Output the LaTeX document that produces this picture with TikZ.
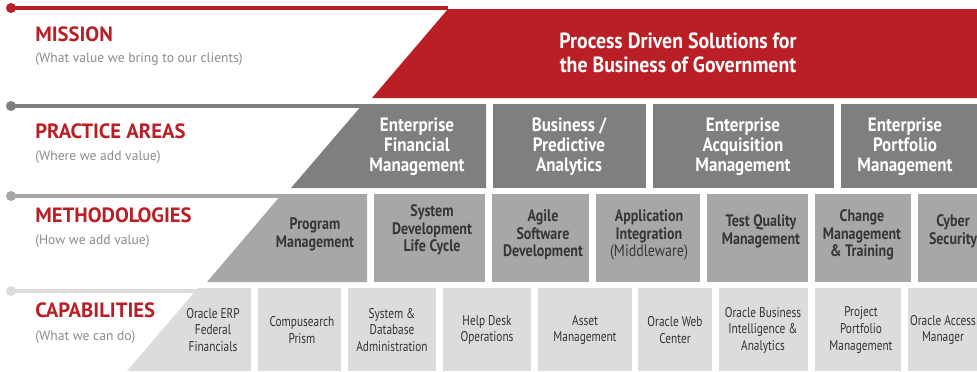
\documentclass[tikz,border=0pt]{standalone}
\usepackage{fontspec}
\setmainfont{PT Sans}
\newfontfamily\condf[FakeStretch=0.84]{PT Sans}
\newfontfamily\condm[FakeStretch=0.9]{PT Sans}
\newfontfamily\condp[FakeStretch=0.88]{PT Sans}
\newfontfamily\condc[FakeStretch=0.8]{PT Sans}
\definecolor{brand}{HTML}{BA1F25}
\definecolor{pgray}{HTML}{7F7F80}
\definecolor{mgray}{HTML}{A7A7A7}
\definecolor{cgray}{HTML}{DCDCDC}
\definecolor{sub}{HTML}{8C8C8C}
\definecolor{ink}{HTML}{363636}
\definecolor{ink2}{HTML}{333333}
\tikzset{
  rowlabel/.style={anchor=base west, inner sep=0pt, text=brand, font=\fontsize{15.5}{17}\selectfont\bfseries},
  rowsub/.style={anchor=base west, inner sep=0pt, text=sub, font=\fontsize{10.2}{12}\selectfont},
  dotnode/.style={circle, inner sep=0pt, minimum size=7.5pt},
  mtext/.style={align=center, inner sep=0pt, text=white, font=\condm\bfseries\fontsize{16.5}{18}\selectfont},
  ptext/.style={align=center, inner sep=0pt, text=white, font=\condp\bfseries\fontsize{14.5}{15}\selectfont},
  metext/.style={align=center, inner sep=0pt, text=ink, font=\condf\bfseries\fontsize{12.5}{13.3}\selectfont},
  ctext/.style={align=center, inner sep=0pt, text=ink2, font=\condc\fontsize{10.6}{12.4}\selectfont},
}
\begin{document}
\begin{tikzpicture}[x=0.75pt,y=-0.75pt]
\useasboundingbox (0,0) rectangle (977,371);
\fill[white] (0,0) rectangle (977,371);

% ---------- MISSION ----------
\fill[brand] (372,98) -- (448,9) -- (977,9) -- (977,98) -- cycle;
\node[dotnode, fill=brand] (d1) at (11,8) {};
\coordinate (e1) at (448,8);
\draw[brand, line width=2.4pt] (d1.center) -- (e1);
\node[rowlabel] (l1) at (35,41) {MISSION};
\node[rowsub] (s1) at (35,62) {(What value we bring to our clients)};
\node[mtext] (mission) at (678,53) {Process Driven Solutions for\\the Business of Government};

% ---------- PRACTICE AREAS ----------
\node[dotnode, fill=pgray] (d2) at (11,106) {};
\coordinate (e2) at (363,106);
\draw[pgray, line width=2.4pt] (d2.center) -- (e2);
\fill[pgray] (291,188) -- (363,104) -- (486,104) -- (486,188) -- cycle;
\fill[pgray] (493,104) rectangle (646,188);
\fill[pgray] (653,104) rectangle (834,188);
\fill[pgray] (841,104) rectangle (990,188);
\node[rowlabel] (l2) at (35,138) {PRACTICE AREAS};
\node[rowsub] (s2) at (35,160) {(Where we add value)};
\node[ptext] (p1) at (417,147) {Enterprise\\Financial\\Management};
\node[ptext] (p2) at (569,147) {Business /\\Predictive\\Analytics};
\node[ptext] (p3) at (743,147) {Enterprise\\Acquisition\\Management};
\node[ptext] (p4) at (905,147) {Enterprise\\Portfolio\\Management};

% ---------- METHODOLOGIES ----------
\node[dotnode, fill=mgray] (d3) at (11,196) {};
\coordinate (e3) at (282,196);
\draw[mgray, line width=2.4pt] (d3.center) -- (e3);
\fill[mgray] (207,282) -- (282,194) -- (367,194) -- (367,282) -- cycle;
\fill[mgray] (374,194) rectangle (485,282);
\fill[mgray] (492,194) rectangle (589,282);
\fill[mgray] (596,194) rectangle (700,282);
\fill[mgray] (707,194) rectangle (808,282);
\fill[mgray] (815,194) rectangle (911,282);
\fill[mgray] (918,194) rectangle (990,282);
\node[rowlabel] (l3) at (35,222) {METHODOLOGIES};
\node[rowsub] (s3) at (35,244) {(How we add value)};
\node[metext] (m1) at (315,234) {Program\\Management};
\node[metext] (m2) at (432,230) {System\\Development\\Life Cycle};
\node[metext] (m3) at (543,235) {Agile\\Software\\Development};
\node[metext] (m4) at (649,235) {Application\\Integration\\{\mdseries(Middleware)}};
\node[metext] (m5) at (761,231) {Test Quality\\Management};
\node[metext] (m6) at (862,235) {Change\\Management\\\& Training};
\node[metext] (m7) at (953,231) {Cyber\\Security};

% ---------- CAPABILITIES ----------
\node[dotnode, fill=cgray] (d4) at (11,291) {};
\coordinate (e4) at (198,291);
\draw[cgray, line width=2.4pt] (d4.center) -- (e4);
\fill[cgray] (127,371) -- (198,288) -- (251,288) -- (251,371) -- cycle;
\fill[cgray] (258,288) rectangle (341,371);
\fill[cgray] (348,288) rectangle (436,371);
\fill[cgray] (443,288) rectangle (531,371);
\fill[cgray] (538,288) rectangle (632,371);
\fill[cgray] (638,288) rectangle (712,371);
\fill[cgray] (719,288) rectangle (808,371);
\fill[cgray] (815,288) rectangle (901,371);
\fill[cgray] (908,288) rectangle (990,371);
\node[rowlabel] (l4) at (35,317) {CAPABILITIES};
\node[rowsub] (s4) at (35,340) {(What we can do)};
\node[ctext] (c1) at (213,330) {Oracle ERP\\Federal\\Financials};
\node[ctext] (c2) at (302,330) {Compusearch\\Prism};
\node[ctext] (c3) at (392,330) {System \&\\Database\\Administration};
\node[ctext] (c4) at (487,330) {Help Desk\\Operations};
\node[ctext] (c5) at (585,330) {Asset\\Management};
\node[ctext] (c6) at (675,330) {Oracle Web\\Center};
\node[ctext] (c7) at (763,330) {Oracle Business\\Intelligence \&\\Analytics};
\node[ctext] (c8) at (861,330) {Project\\Portfolio\\Management};
\node[ctext] (c9) at (943,330) {Oracle Access\\Manager};
\end{tikzpicture}
\end{document}
